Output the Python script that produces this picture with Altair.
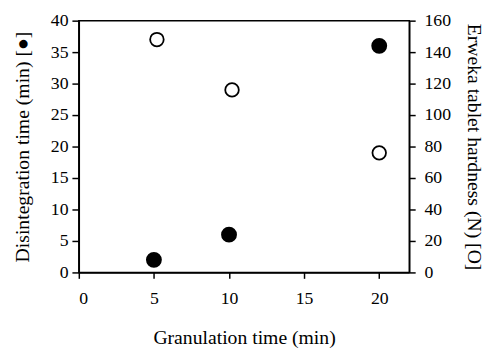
import altair as alt
import pandas as pd

# Data
gran_time_dis = [5, 10, 20]
disintegration = [2, 6, 36]
gran_time_hard = [5.2, 10.2, 20]
hardness = [148, 116, 76]
x_ticks = [0, 5, 10, 15, 20]
left_ticks = [0, 5, 10, 15, 20, 25, 30, 35, 40]
right_ticks = [0, 20, 40, 60, 80, 100, 120, 140, 160]

df1 = pd.DataFrame({"gran": gran_time_dis, "val": disintegration})
df2 = pd.DataFrame({"gran": gran_time_hard, "val": hardness})

FONT = "Liberation Serif"

x_enc = alt.X(
    "gran:Q",
    scale=alt.Scale(domain=[0, 22], nice=False, zero=False),
    axis=alt.Axis(
        title="Granulation time (min)",
        values=x_ticks,
        tickSize=6,
        labelPadding=12,
        titlePadding=20,
        grid=False,
    ),
)

filled = alt.Chart(df1).mark_point(
    shape="circle", filled=True, fill="black", stroke="black", size=200, opacity=1
).encode(
    x=x_enc,
    y=alt.Y(
        "val:Q",
        scale=alt.Scale(domain=[0, 40], nice=False),
        axis=alt.Axis(
            title="Disintegration time (min) [●]",
            orient="left",
            values=left_ticks,
            tickSize=7,
            labelPadding=4,
            titlePadding=18,
            grid=False,
        ),
    ),
)

opened = alt.Chart(df2).mark_point(
    shape="circle", filled=True, fill="white", stroke="black", strokeWidth=1.8, size=190, opacity=1
).encode(
    x=alt.X("gran:Q", scale=alt.Scale(domain=[0, 22], nice=False, zero=False)),
    y=alt.Y(
        "val:Q",
        scale=alt.Scale(domain=[0, 160], nice=False),
        axis=alt.Axis(
            title="Erweka tablet hardness (N) [O]",
            orient="right",
            values=right_ticks,
            tickSize=6,
            labelPadding=9,
            titlePadding=13,
            grid=False,
        ),
    ),
)

chart = (
    alt.layer(filled, opened)
    .resolve_scale(y="independent")
    .properties(
        width=336,
        height=256,
        autosize=alt.AutoSizeParams(type="none"),
        padding={"left": 72, "top": 10, "right": 77, "bottom": 76},
        background="white",
    )
    .configure_view(stroke="black", strokeWidth=1.5)
    .configure_axis(
        labelFont=FONT,
        titleFont=FONT,
        labelFontSize=18,
        titleFontSize=20,
        titleFontWeight="normal",
        labelColor="black",
        titleColor="black",
        domainColor="black",
        tickColor="black",
        domainWidth=1.5,
        tickWidth=1.5,
    )
)

chart.save("out.html", embed_options={"renderer": "svg", "actions": False})
